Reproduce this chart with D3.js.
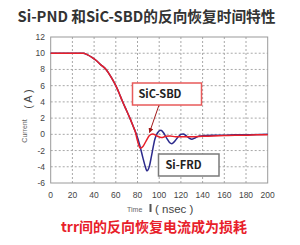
<!DOCTYPE html>
<head>
  <meta charset="utf-8">
  <script src="https://d3js.org/d3.v7.min.js"></script>
  <style>
    body { margin: 0; background: #fff; font-family: "Noto Sans CJK SC", "Noto Sans", sans-serif; }
    .grid line { stroke: #a8a8a8; stroke-dasharray: 2,2; stroke-width: 1; }
    .tick-label { font-family: Arial, "Liberation Sans", sans-serif; font-size: 8.5px; fill: #444; }
  </style>
</head>
<body>
  <div id="vis"></div>
  <script>
    // shared fall from 10 A (both diodes)
    var fallTime = [0, 30, 34, 38, 42, 46, 51, 56, 60, 63, 66, 70, 73, 76];
    var fallCurrent = [10, 10, 9.8, 9.5, 9.1, 8.6, 8.0, 7.0, 6.0, 5.1, 4.1, 2.9, 2.0, 1.0];

    // Si-FRD recovery (blue)
    var frdTime = [79, 82, 85, 87, 88.8, 91, 93, 96, 98.5, 101.5, 104, 107, 109.5, 111.7, 114, 117, 120, 122, 125, 128, 130, 133, 137, 142, 150, 160, 170, 180, 200];
    var frdCurrent = [0.0, -1.3, -2.9, -3.9, -4.5, -3.9, -2.6, -0.6, 0.2, 0.5, 0.2, -0.5, -1.0, -1.15, -0.9, -0.4, 0.0, 0.05, -0.2, -0.5, -0.6, -0.45, -0.2, -0.15, -0.1, -0.1, -0.05, -0.05, 0];

    // SiC-SBD recovery (red)
    var sbdTime = [78, 80, 82.5, 85, 88, 91, 94, 98, 102, 106, 110, 115, 120, 130, 140, 150, 160, 170, 180, 190, 200];
    var sbdCurrent = [0.3, -0.8, -1.7, -1.5, -0.8, -0.15, 0.05, -0.2, -0.4, -0.25, -0.2, -0.3, -0.3, -0.3, -0.25, -0.2, -0.15, -0.1, -0.1, -0.05, -0.05];

    var xTicks = [0, 20, 40, 60, 80, 100, 120, 140, 160, 180, 200];
    var yTicks = [-6, -4, -2, 0, 2, 4, 6, 8, 10, 12];

    var width = 300, height = 245;
    var svg = d3.select("#vis").append("svg")
      .attr("width", width)
      .attr("height", height);

    var x = d3.scaleLinear().domain([0, 200]).range([50.7, 267.7]);
    var y = d3.scaleLinear().domain([-6, 12]).range([183, 37]);

    // title
    svg.append("text")
      .attr("x", 146.5).attr("y", 21.8)
      .attr("text-anchor", "middle")
      .style("font-size", "14.7px").style("font-weight", "bold").style("fill", "#333")
      .text("Si-PND 和SiC-SBD的反向恢复时间特性");

    // grid
    var grid = svg.append("g").attr("class", "grid");
    grid.selectAll(".vx").data(xTicks.slice(1, -1)).enter().append("line")
      .attr("x1", x).attr("x2", x).attr("y1", y(12)).attr("y2", y(-6));
    grid.selectAll(".hy").data(yTicks.slice(1, -1)).enter().append("line")
      .attr("x1", x(0)).attr("x2", x(200)).attr("y1", y).attr("y2", y);

    svg.append("rect")
      .attr("x", x(0)).attr("y", y(12))
      .attr("width", x(200) - x(0)).attr("height", y(-6) - y(12))
      .attr("fill", "none").attr("stroke", "#9a9a9a").attr("stroke-width", 1);

    // tick labels
    svg.selectAll(".ytl").data(yTicks).enter().append("text")
      .attr("class", "tick-label")
      .attr("x", 45).attr("y", function (d) { return y(d) + 3; })
      .attr("text-anchor", "end")
      .text(function (d) { return d; });

    svg.selectAll(".xtl").data(xTicks).enter().append("text")
      .attr("class", "tick-label")
      .attr("x", x).attr("y", 197.5)
      .attr("text-anchor", "middle")
      .text(function (d) { return d; });

    // axis titles
    svg.append("text")
      .attr("transform", "translate(27,131) rotate(-90)")
      .attr("text-anchor", "middle")
      .style("font-family", "Arial, sans-serif").style("font-size", "7px").style("fill", "#666")
      .text("Current");
    svg.append("text")
      .attr("transform", "translate(32,99) rotate(-90)")
      .attr("text-anchor", "middle")
      .style("font-family", "Arial, sans-serif").style("font-size", "11px").style("fill", "#444")
      .text("( A )");

    svg.append("text")
      .attr("x", 127).attr("y", 211.5)
      .style("font-family", "Arial, sans-serif").style("font-size", "7px").style("fill", "#666")
      .text("Time");
    svg.append("rect")
      .attr("x", 149.5).attr("y", 204).attr("width", 2).attr("height", 8).attr("fill", "#555");
    svg.append("text")
      .attr("x", 155).attr("y", 212.5)
      .style("font-family", "Arial, sans-serif").style("font-size", "11.5px").style("fill", "#444")
      .text("( nsec )");

    // curves
    var line = d3.line()
      .x(function (d) { return x(d[0]); })
      .y(function (d) { return y(d[1]); })
      .curve(d3.curveMonotoneX);

    var fall = fallTime.map(function (t, i) { return [t, fallCurrent[i]]; });
    var frd = fall.concat(frdTime.map(function (t, i) { return [t, frdCurrent[i]]; }));
    var sbd = fall.concat(sbdTime.map(function (t, i) { return [t, sbdCurrent[i]]; }));

    svg.append("path").datum(frd)
      .attr("d", line).attr("fill", "none")
      .attr("stroke", "#2c2a8c").attr("stroke-width", 1.5);
    svg.append("path").datum(sbd)
      .attr("d", line).attr("fill", "none")
      .attr("stroke", "#e8202a").attr("stroke-width", 1.5);

    // annotations
    svg.append("defs").append("marker")
      .attr("id", "arr").attr("viewBox", "0 0 10 10")
      .attr("refX", 9).attr("refY", 5)
      .attr("markerWidth", 5).attr("markerHeight", 5)
      .attr("orient", "auto")
      .append("path").attr("d", "M0,0L10,5L0,10z").attr("fill", "#a01818");

    svg.append("line")
      .attr("x1", 159).attr("y1", 105)
      .attr("x2", 149.5).attr("y2", 132.5)
      .attr("stroke", "#a01818").attr("stroke-width", 1)
      .attr("marker-end", "url(#arr)");

    svg.append("rect")
      .attr("x", 132.5).attr("y", 83).attr("width", 69).attr("height", 22)
      .attr("fill", "#fff").attr("stroke", "#e85a5a").attr("stroke-width", 1.5);
    svg.append("text")
      .attr("x", 160).attr("y", 98.3).attr("text-anchor", "middle")
      .style("font-size", "11px").style("font-weight", "bold").style("fill", "#222")
      .text("SiC-SBD");

    svg.append("rect")
      .attr("x", 158.5).attr("y", 154).attr("width", 60.5).attr("height", 22)
      .attr("fill", "#fff").attr("stroke", "#7a7a7a").attr("stroke-width", 1.5);
    svg.append("text")
      .attr("x", 183.5).attr("y", 169.3).attr("text-anchor", "middle")
      .style("font-size", "11px").style("font-weight", "bold").style("fill", "#222")
      .text("Si-FRD");

    svg.append("text")
      .attr("x", 154).attr("y", 232.3)
      .attr("text-anchor", "middle")
      .style("font-size", "14px").style("font-weight", "bold").style("fill", "#e8202a")
      .text("trr间的反向恢复电流成为损耗");
  </script>
</body>
